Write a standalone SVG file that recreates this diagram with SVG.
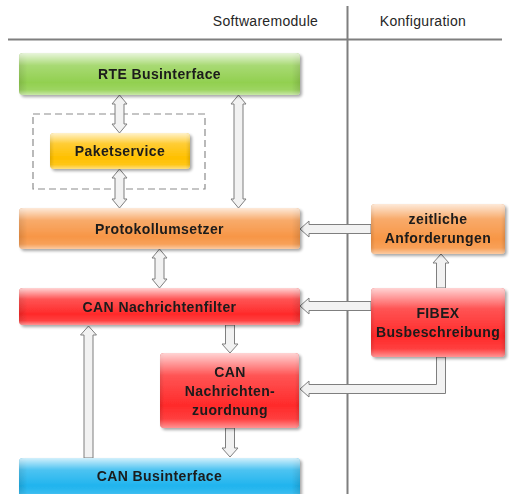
<svg xmlns="http://www.w3.org/2000/svg" width="509" height="494" viewBox="0 0 509 494">
<defs>
<linearGradient id="gloss" x1="0" y1="0" x2="0" y2="1">
<stop offset="0" stop-color="#fff" stop-opacity="0.8"/>
<stop offset="0.3" stop-color="#fff" stop-opacity="0.2"/>
<stop offset="0.7" stop-color="#fff" stop-opacity="0"/>
<stop offset="0.88" stop-color="#fff" stop-opacity="0.1"/>
<stop offset="1" stop-color="#fff" stop-opacity="0.5"/>
</linearGradient>
<linearGradient id="edge" x1="0" y1="0" x2="1" y2="0">
<stop offset="0" stop-color="#000" stop-opacity="0.12"/>
<stop offset="0.03" stop-color="#000" stop-opacity="0"/>
<stop offset="0.97" stop-color="#000" stop-opacity="0"/>
<stop offset="1" stop-color="#000" stop-opacity="0.12"/>
</linearGradient>
<filter id="sh" x="-10%" y="-20%" width="120%" height="150%">
<feGaussianBlur in="SourceAlpha" stdDeviation="1.5"/>
<feOffset dx="2" dy="2" result="b"/>
<feComponentTransfer><feFuncA type="linear" slope="0.35"/></feComponentTransfer>
<feMerge><feMergeNode/><feMergeNode in="SourceGraphic"/></feMerge>
</filter>
</defs>
<style>
.hdr{font-family:"Liberation Sans",Arial,sans-serif;font-size:14px;letter-spacing:0.3px;fill:#262626;text-anchor:middle}
.lbl{font-family:"Liberation Sans",Arial,sans-serif;font-size:14px;letter-spacing:0.4px;font-weight:bold;fill:#1a1a1a;text-anchor:middle}
.green{fill:#92d050}
.yellow{fill:#ffc000}
.orange{fill:#f79646}
.red{fill:#ff2a2a}
.blue{fill:#20b4ee}
.gl{fill:url(#gloss)}
.ed{fill:url(#edge)}
.arr{fill:#f2f2f2;stroke:#7f7f7f;stroke-width:1;stroke-linejoin:miter}
.sep{stroke:#7f7f7f;stroke-width:2;fill:none}
</style>

<g id="header">
<line class="sep" x1="8" y1="39.5" x2="502" y2="39.5"/>
<line class="sep" x1="347.5" y1="6" x2="347.5" y2="494"/>
<text class="hdr" x="265.5" y="26">Softwaremodule</text>
<text class="hdr" x="423" y="26">Konfiguration</text>
</g>

<g id="paket-group">
<rect x="33" y="114" width="172" height="75" fill="none" stroke="#8c8c8c" stroke-width="1.2" stroke-dasharray="7,4"/>
</g>

<g id="connectors">
<path class="arr" d="M119.5,95 L127,104 L124,104 L124,124 L127,124 L119.5,133 L112,124 L115,124 L115,104 L112,104 Z"/>
<path class="arr" d="M119.5,169 L127,178 L124,178 L124,199 L127,199 L119.5,208 L112,199 L115,199 L115,178 L112,178 Z"/>
<path class="arr" d="M238.5,95 L246,104 L243,104 L243,199 L246,199 L238.5,208 L231,199 L234,199 L234,104 L231,104 Z"/>
<path class="arr" d="M159.5,249 L167,258 L164,258 L164,279 L167,279 L159.5,288 L152,279 L155,279 L155,258 L152,258 Z"/>
<path class="arr" d="M225.5,325 L234.5,325 L234.5,344 L238,344 L230,353 L222,344 L225.5,344 Z"/>
<path class="arr" d="M225.5,428 L234.5,428 L234.5,448 L238,448 L230,457 L222,448 L225.5,448 Z"/>
<path class="arr" d="M84,458 L84,335 L80.5,335 L88.5,326 L96.5,335 L93,335 L93,458 Z"/>
<path class="arr" d="M371,224.5 L309,224.5 L309,221 L300,229 L309,237 L309,233.5 L371,233.5 Z"/>
<path class="arr" d="M371,301.5 L309,301.5 L309,298 L300,306 L309,314 L309,310.5 L371,310.5 Z"/>
<path class="arr" d="M436.5,288 L436.5,263 L433,263 L441,254 L449,263 L445.5,263 L445.5,288 Z"/>
<path class="arr" d="M436.5,357 L436.5,384.5 L309,384.5 L309,381 L300,389 L309,397 L309,393.5 L445.5,393.5 L445.5,357 Z"/>
</g>

<g id="rte" filter="url(#sh)">
<rect class="green" x="19" y="53" width="281" height="42" rx="4"/>
<rect class="ed" x="19" y="53" width="281" height="42" rx="4"/>
<rect class="gl" x="19" y="53" width="281" height="42" rx="4"/>
<text class="lbl" x="159.5" y="79">RTE Businterface</text>
</g>

<g id="paketservice" filter="url(#sh)">
<rect class="yellow" x="50" y="133" width="140" height="36" rx="4"/>
<rect class="ed" x="50" y="133" width="140" height="36" rx="4"/>
<rect class="gl" x="50" y="133" width="140" height="36" rx="4"/>
<text class="lbl" x="120" y="156">Paketservice</text>
</g>

<g id="protokoll" filter="url(#sh)">
<rect class="orange" x="19" y="208" width="281" height="41" rx="4"/>
<rect class="ed" x="19" y="208" width="281" height="41" rx="4"/>
<rect class="gl" x="19" y="208" width="281" height="41" rx="4"/>
<text class="lbl" x="159.5" y="233.5">Protokollumsetzer</text>
</g>

<g id="filter" filter="url(#sh)">
<rect class="red" x="19" y="288" width="281" height="37" rx="4"/>
<rect class="ed" x="19" y="288" width="281" height="37" rx="4"/>
<rect class="gl" x="19" y="288" width="281" height="37" rx="4"/>
<text class="lbl" x="159.5" y="311.5">CAN Nachrichtenfilter</text>
</g>

<g id="zuordnung" filter="url(#sh)">
<rect class="red" x="160" y="353" width="139" height="75" rx="4"/>
<rect class="ed" x="160" y="353" width="139" height="75" rx="4"/>
<rect class="gl" x="160" y="353" width="139" height="75" rx="4"/>
<text class="lbl" x="230" y="377">CAN</text>
<text class="lbl" x="230" y="396">Nachrichten-</text>
<text class="lbl" x="230" y="414.5">zuordnung</text>
</g>

<g id="canbus" filter="url(#sh)">
<rect class="blue" x="19" y="458" width="281" height="40" rx="4"/>
<rect class="ed" x="19" y="458" width="281" height="40" rx="4"/>
<rect class="gl" x="19" y="458" width="281" height="40" rx="4"/>
<text class="lbl" x="159.5" y="480.5">CAN Businterface</text>
</g>

<g id="zeitlich" filter="url(#sh)">
<rect class="orange" x="371" y="204" width="134" height="50" rx="4"/>
<rect class="ed" x="371" y="204" width="134" height="50" rx="4"/>
<rect class="gl" x="371" y="204" width="134" height="50" rx="4"/>
<text class="lbl" x="438" y="224">zeitliche</text>
<text class="lbl" x="438" y="243">Anforderungen</text>
</g>

<g id="fibex" filter="url(#sh)">
<rect class="red" x="371" y="288" width="134" height="69" rx="4"/>
<rect class="ed" x="371" y="288" width="134" height="69" rx="4"/>
<rect class="gl" x="371" y="288" width="134" height="69" rx="4"/>
<text class="lbl" x="438" y="318">FIBEX</text>
<text class="lbl" x="438" y="337">Busbeschreibung</text>
</g>
</svg>
